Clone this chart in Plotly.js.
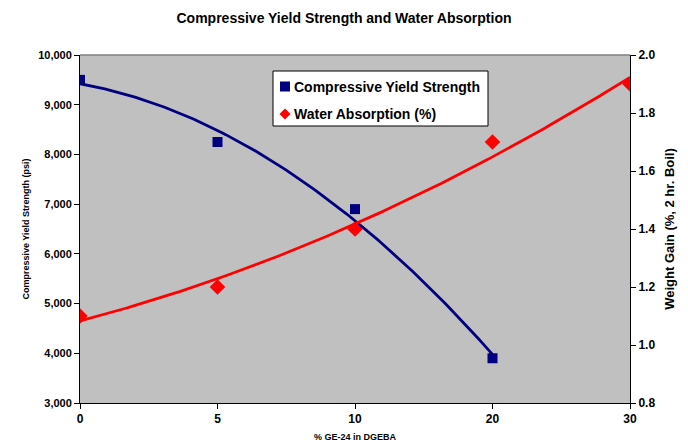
<!DOCTYPE html>
<html><head><meta charset="utf-8">
<script src="https://cdn.plot.ly/plotly-3.0.1.min.js"></script>
<style>html,body{margin:0;padding:0;background:#fff}#chart{width:688px;height:448px}</style>
</head><body><div id="chart"></div>
<script>
var categories = ["0", "5", "10", "20", "30"];
var strength = [9500, 8250, 6900, 3900, null];
var absorption = [1.1, 1.2, 1.4, 1.7, 1.9];
var seriesNames = ["Compressive Yield Strength", "Water Absorption (%)"];

// Quadratic least-squares trendline (like Excel's polynomial order 2), on category index
function polyFit2(xs, ys) {
  var n=0,sx=0,sx2=0,sx3=0,sx4=0,sy=0,sxy=0,sx2y=0;
  for (var i=0;i<xs.length;i++){ if(ys[i]==null) continue; var x=xs[i],y=ys[i];
    n++; sx+=x; sx2+=x*x; sx3+=x*x*x; sx4+=x*x*x*x; sy+=y; sxy+=x*y; sx2y+=x*x*y; }
  var M=[[n,sx,sx2,sy],[sx,sx2,sx3,sxy],[sx2,sx3,sx4,sx2y]];
  for (var c=0;c<3;c++){ for (var r=c+1;r<3;r++){ var f=M[r][c]/M[c][c]; for (var k=c;k<4;k++) M[r][k]-=f*M[c][k]; } }
  var co=[0,0,0];
  for (var r=2;r>=0;r--){ var s=M[r][3]; for (var k=r+1;k<3;k++) s-=M[r][k]*co[k]; co[r]=s/M[r][r]; }
  return co;
}
function trend(ys) {
  var xs = ys.map(function(_,i){return i;});
  var last = 0; ys.forEach(function(v,i){ if(v!=null) last=i; });
  var co = polyFit2(xs, ys), tx=[], ty=[];
  for (var t=0;t<=last*50;t++){ var x=t/50; tx.push(x); ty.push(co[0]+co[1]*x+co[2]*x*x); }
  return {x:tx,y:ty};
}
var idx = categories.map(function(_,i){return i;});
var tS = trend(strength), tA = trend(absorption);
var bold = {family:"Liberation Sans, Arial, sans-serif", color:"#000", weight:"bold"};
function f(size){ return Object.assign({}, bold, {size:size}); }

var data = [
  {x:tS.x, y:tS.y, mode:"lines", line:{color:"#000080", width:2.8}, showlegend:false, hoverinfo:"skip"},
  {x:tA.x, y:tA.y, yaxis:"y2", mode:"lines", line:{color:"#FF0000", width:2.8}, showlegend:false, hoverinfo:"skip"},
  {x:idx, y:strength, name:seriesNames[0], mode:"markers", marker:{symbol:"square", color:"#000080", size:10}, showlegend:false},
  {x:idx, y:absorption, yaxis:"y2", name:seriesNames[1], mode:"markers", marker:{symbol:"diamond", color:"#FF0000", size:12}, showlegend:false}
];

// Legend box (Excel style), built in paper coordinates of the plot area
var PW=550, PH=348;
function px(x){ return (x-80)/PW; }
function py(y){ return (403-y)/PH; }
var rows=[86.5, 114];
var shapes = [
  {type:"line", xref:"paper", yref:"paper", x0:0, x1:1, y0:1, y1:1, line:{color:"#808080", width:1.5}},
  {type:"rect", xref:"paper", yref:"paper", x0:px(273), x1:px(488), y0:py(126), y1:py(71), fillcolor:"#fff", line:{color:"#000", width:1}},
  {type:"rect", xref:"paper", yref:"paper", x0:px(280), x1:px(290), y0:py(rows[0]+5), y1:py(rows[0]-5), fillcolor:"#000080", line:{width:0}},
  {type:"path", xref:"paper", yref:"paper", fillcolor:"#FF0000", line:{width:0},
    path:"M "+px(279.5)+" "+py(rows[1])+" L "+px(285)+" "+py(rows[1]-5.5)+" L "+px(290.5)+" "+py(rows[1])+" L "+px(285)+" "+py(rows[1]+5.5)+" Z"}
];
var annotations = seriesNames.map(function(nm,i){
  return {xref:"paper", yref:"paper", x:px(292), y:py(rows[i]), xanchor:"left", yanchor:"middle", showarrow:false, text:nm, font:f(14)};
});

var layout = {
  width:688, height:448,
  margin:{l:80, r:58, t:55, b:45},
  paper_bgcolor:"#fff", plot_bgcolor:"#C0C0C0",
  title:{text:"Compressive Yield Strength and Water Absorption", font:f(14), x:0.5, xanchor:"center", y:0.96, yanchor:"middle"},
  xaxis:{range:[0,4], tickvals:idx, ticktext:categories, showgrid:false, zeroline:false,
    showline:true, linecolor:"#000", linewidth:1, ticks:"outside", ticklen:5, tickcolor:"#000",
    tickfont:f(12), title:{text:"% GE-24 in DGEBA", font:f(9), standoff:8}},
  yaxis:{range:[3000,10000], dtick:1000, tickformat:",", showgrid:false, zeroline:false,
    showline:true, linecolor:"#000", linewidth:1, ticks:"outside", ticklen:5, tickcolor:"#000",
    tickfont:f(11), title:{text:"Compressive Yield Strength (psi)", font:f(9), standoff:6}},
  yaxis2:{range:[0.8,2.0], dtick:0.2, tickformat:".1f", overlaying:"y", side:"right", showgrid:false, zeroline:false,
    showline:true, linecolor:"#000", linewidth:1, ticks:"outside", ticklen:5, tickcolor:"#000",
    tickfont:f(12), title:{text:"Weight Gain (%, 2 hr. Boil)", font:f(13), standoff:10}},
  shapes:shapes, annotations:annotations,
  showlegend:false
};
Plotly.newPlot("chart", data, layout, {displayModeBar:false, staticPlot:true});
</script></body></html>
